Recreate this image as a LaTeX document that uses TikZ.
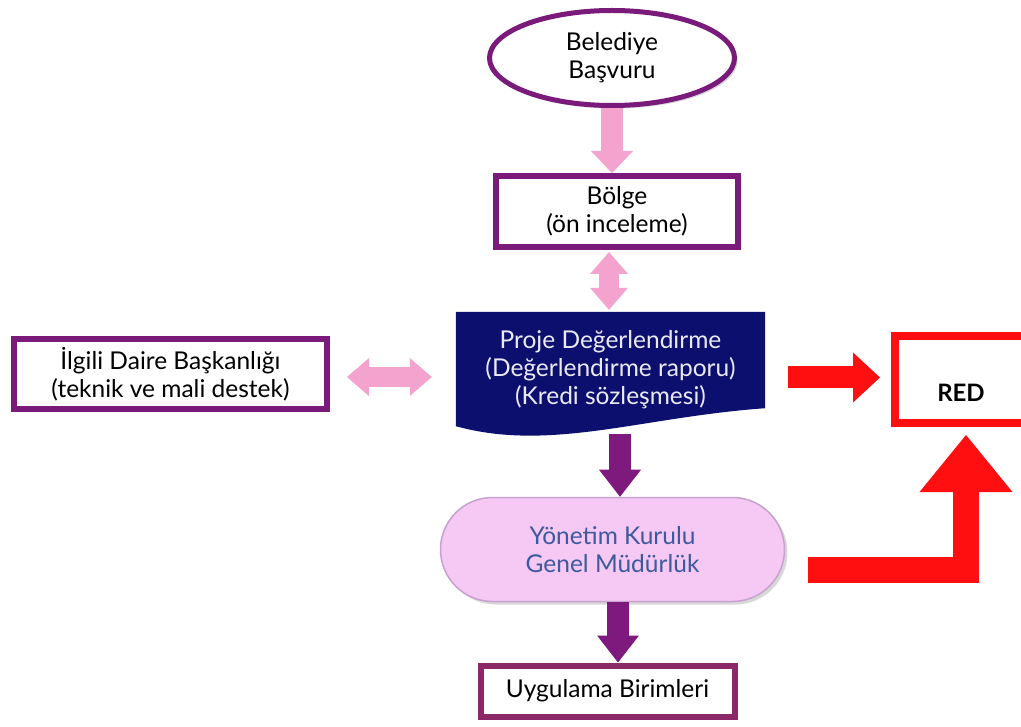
\documentclass[tikz,border=0pt]{standalone}
\usepackage{fontspec}
\setmainfont{Lato}
\usetikzlibrary{arrows.meta,shadows,calc,shapes.geometric,backgrounds}
\definecolor{purp}{HTML}{7A1A7A}
\definecolor{uygpurp}{HTML}{8A2868}
\definecolor{pinkarr}{HTML}{F4A3CF}
\definecolor{navydoc}{HTML}{0D0F6E}
\definecolor{doctext}{HTML}{EAEAF5}
\definecolor{redc}{HTML}{FF0F0F}
\definecolor{yonfill}{HTML}{F6C8F4}
\definecolor{yondraw}{HTML}{C7A2CF}
\definecolor{yontext}{HTML}{3D5A9E}
\definecolor{purparr}{HTML}{7E1A7E}
\begin{document}
\begin{tikzpicture}[x=1pt,y=-1pt,
  txt/.style={font=\fontsize{24.5}{28}\selectfont, align=center, text=black, inner sep=0pt},
  shad/.style={drop shadow={opacity=.3,shadow xshift=3pt,shadow yshift=-3pt}},
  purpbox/.style={rectangle, draw=purp, line width=6pt, fill=white, txt, shad},
  pinkdown/.style={draw=pinkarr, line width=22pt, -{Triangle[length=22pt, width=42pt, line width=0pt]}},
  pinkboth/.style={draw=pinkarr, line width=20pt, {Triangle[length=22pt, width=38pt, line width=0pt]}-{Triangle[length=22pt, width=38pt, line width=0pt]}},
  purpdown/.style={draw=purparr, line width=22pt, -{Triangle[length=27pt, width=42pt, line width=0pt]}},
  redright/.style={draw=redc, line width=22pt, -{Triangle[length=27pt, width=50pt, line width=0pt]}},
  redbent/.style={draw=redc, line width=26pt, line join=miter, -{Triangle[length=57pt, width=93pt, line width=0pt]}},
]
\useasboundingbox (0,0) rectangle (1021,727);
\begin{scope}[on background layer]
  \fill[white] (0,0) rectangle (1021,727);
\end{scope}

% nodes
\node[ellipse, draw=purp, line width=5pt, fill=white, minimum width=245pt, minimum height=95pt, txt, shad] (bel) at (612,58) {Belediye\\Başvuru};
\node[purpbox, minimum width=242pt, minimum height=71pt] (bolge) at (617,211.5) {Bölge\\(ön inceleme)};
\node[purpbox, minimum width=313pt, minimum height=70pt] (ilgili) at (170.5,374) {İlgili Daire Başkanlığı\\(teknik ve mali destek)};
\node[rectangle, minimum width=309pt, minimum height=120pt, txt, text=doctext] (proje) at (610.5,370)
  {Proje Değerlendirme\\(Değerlendirme raporu)\\(Kredi sözleşmesi)};
\node[rectangle, draw=redc, line width=8pt, fill=white, minimum width=132pt, minimum height=87pt, txt, font=\fontsize{24}{28}\selectfont\bfseries, shad] (red) at (961,379.5) {\raisebox{-22pt}[0pt][0pt]{RED}};
\node[rectangle, rounded corners=52pt, draw=yondraw, line width=1.5pt, fill=yonfill, minimum width=344pt, minimum height=104pt, txt, text=yontext, shad] (yon) at (612.5,549.5) {Yönetim Kurulu\\Genel Müdürlük};
\node[rectangle, draw=uygpurp, line width=6pt, fill=white, minimum width=254pt, minimum height=51pt, txt, shad] (uyg) at (607.5,691) {Uygulama Birimleri};

% document shape of proje
\begin{scope}[on background layer]
  \fill[navydoc] ($(proje.north west)+(0,2)$) -- ($(proje.north east)+(0,2)$)
    -- ($(proje.south east)+(0,-22)$)
    .. controls ($(proje.south)+(30,-13)$) and ($(proje.south)+(-60,22)$) .. ($(proje.south west)+(0,-4)$)
    -- cycle;
\end{scope}

% connector end points
\coordinate (b1) at ($(bolge.south)+(-8,2)$);
\coordinate (p1) at ($(proje.south)+(9.5,4)$);
\coordinate (y1) at ($(yon.south)+(5.5,0)$);
\coordinate (bentstart) at ($(yon.east)+(23,20)$);
\coordinate (redtip) at ($(red.south)+(5,8)$);

% connectors
\draw[pinkdown] (bel.south) -- (bel.south |- bolge.north);
\draw[pinkboth] (b1) -- (b1 |- proje.north);
\draw[pinkboth] ($(ilgili.east)+(17,3)$) -- ($(ilgili.east -| proje.west)+(-24,3)$);
\draw[redright] ($(proje.east |- red.west)+(23,-2)$) -- ($(red.west)+(-11,-2)$);
\draw[purpdown] (p1) -- (p1 |- yon.north);
\draw[purpdown] (y1) -- (y1 |- uyg.north);
\draw[redbent] (bentstart) -- (bentstart -| redtip) -- (redtip);
\end{tikzpicture}
\end{document}
